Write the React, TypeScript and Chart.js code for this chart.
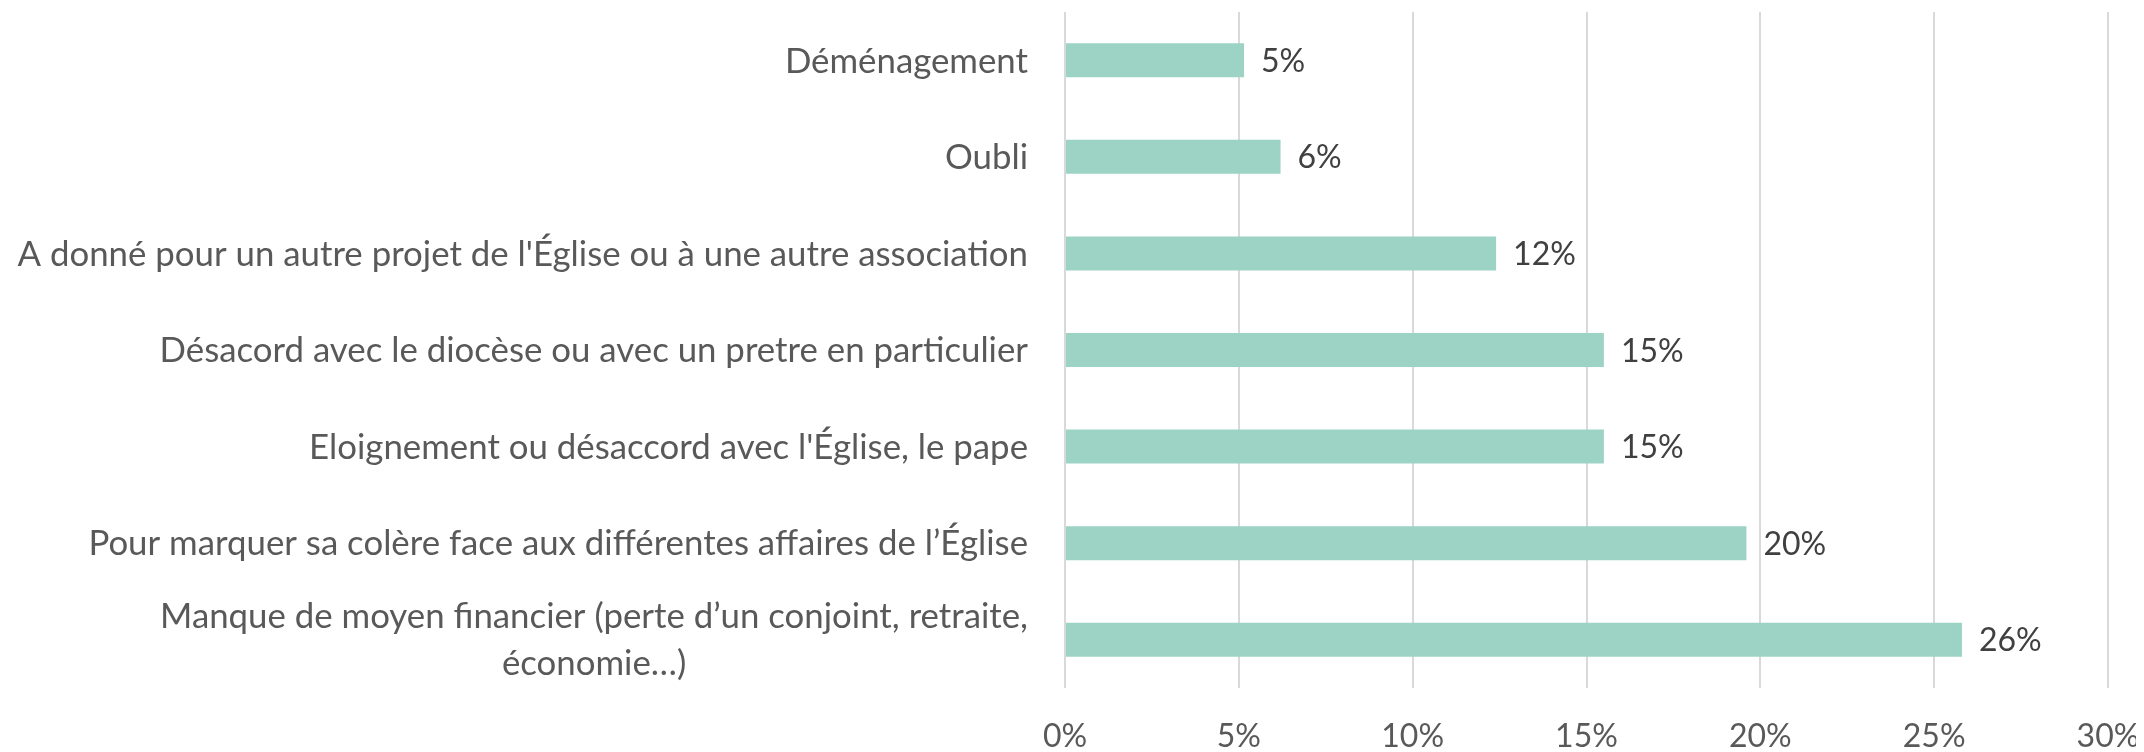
import React, { useEffect, useRef } from "react";
import { Chart, registerables } from "chart.js";

Chart.register(...registerables);

const categories: (string | string[])[] = [
  "Déménagement",
  "Oubli",
  "A donné pour un autre projet de l'Église ou à une autre association",
  "Désacord avec le diocèse ou avec un pretre en particulier",
  "Eloignement ou désaccord avec l'Église, le pape",
  "Pour marquer sa colère face aux différentes affaires de l’Église",
  ["Manque de moyen financier (perte d’un conjoint, retraite,", "économie…)"],
];
const values: number[] = [5.15, 6.2, 12.4, 15.5, 15.5, 19.6, 25.8];
const valueLabels: string[] = ["5%", "6%", "12%", "15%", "15%", "20%", "26%"];
const xMin = 0;
const xMax = 30;
const xStep = 5;

const FONT_FAMILY = "Lato, 'Open Sans', sans-serif";
const FONT_SIZE = 32;
const CAT_FONT_SIZE = 34.8;
const CAP_H_VAL = 23;
const CAP_H_CAT = 24.5;
const LINE_GAP = 47;

const labelsPlugin = {
  id: "customLabels",
  afterDraw(chart: any) {
    const ctx = chart.ctx;
    const ys = chart.scales.y;
    const xs = chart.scales.x;
    const area = chart.chartArea;
    ctx.save();
    ctx.textBaseline = "alphabetic";
    ctx.font = `${CAT_FONT_SIZE}px ${FONT_FAMILY}`;
    ctx.fillStyle = "#595959";
    const right = area.left - 37;
    categories.forEach((lab, i) => {
      const lines = Array.isArray(lab) ? lab : [lab];
      const py = ys.getPixelForValue(i);
      const w = Math.max(...lines.map((l) => ctx.measureText(l).width));
      const cx = right - w / 2;
      ctx.textAlign = "center";
      lines.forEach((l, j) => {
        const base = py + CAP_H_CAT / 2 + (j - (lines.length - 1) / 2) * LINE_GAP;
        ctx.fillText(l, cx, base);
      });
    });
    ctx.font = `${FONT_SIZE}px ${FONT_FAMILY}`;
    ctx.fillStyle = "#404040";
    ctx.textAlign = "left";
    values.forEach((v, i) => {
      const px = xs.getPixelForValue(v) + 17;
      const py = ys.getPixelForValue(i);
      ctx.fillText(valueLabels[i], px, py + CAP_H_VAL / 2);
    });
    ctx.restore();
  },
};

export default function App() {
  const ref = useRef<HTMLCanvasElement | null>(null);
  useEffect(() => {
    document.documentElement.style.overflow = "hidden";
    if (!ref.current) return;
    const chart = new Chart(ref.current, {
      type: "bar",
      data: {
        labels: categories.map((c) => (Array.isArray(c) ? c.join(" ") : c)),
        datasets: [
          {
            data: values,
            backgroundColor: "#9dd3c5",
            borderWidth: 0,
            barPercentage: 0.352,
            categoryPercentage: 1,
          },
        ],
      },
      options: {
        indexAxis: "y",
        animation: false,
        responsive: true,
        maintainAspectRatio: false,
        layout: { padding: { top: 4, left: 0, right: 0, bottom: 0 } },
        plugins: {
          legend: { display: false },
          tooltip: { enabled: false },
          title: { display: false },
        },
        scales: {
          x: {
            min: xMin,
            max: xMax,
            grid: {
              color: "#d9d9d9",
              lineWidth: 2,
              drawTicks: false,
            },
            border: { display: false },
            ticks: {
              stepSize: xStep,
              padding: 29,
              color: "#595959",
              font: { family: FONT_FAMILY, size: FONT_SIZE },
              callback: (v: any) => `${v}%`,
            },
            afterFit: (s: any) => {
              s.height = 64;
              s.paddingLeft = 0;
              s.paddingRight = 28;
            },
          },
          y: {
            grid: { display: false },
            border: { display: false },
            ticks: { display: false },
            afterFit: (s: any) => {
              s.width = 1057;
              s.paddingTop = 0;
              s.paddingBottom = 0;
            },
          },
        },
      },
      plugins: [labelsPlugin],
    });
    return () => chart.destroy();
  }, []);
  return (
    <div style={{ width: 2128, height: 744, position: "relative" }}>
      <canvas ref={ref} />
    </div>
  );
}
